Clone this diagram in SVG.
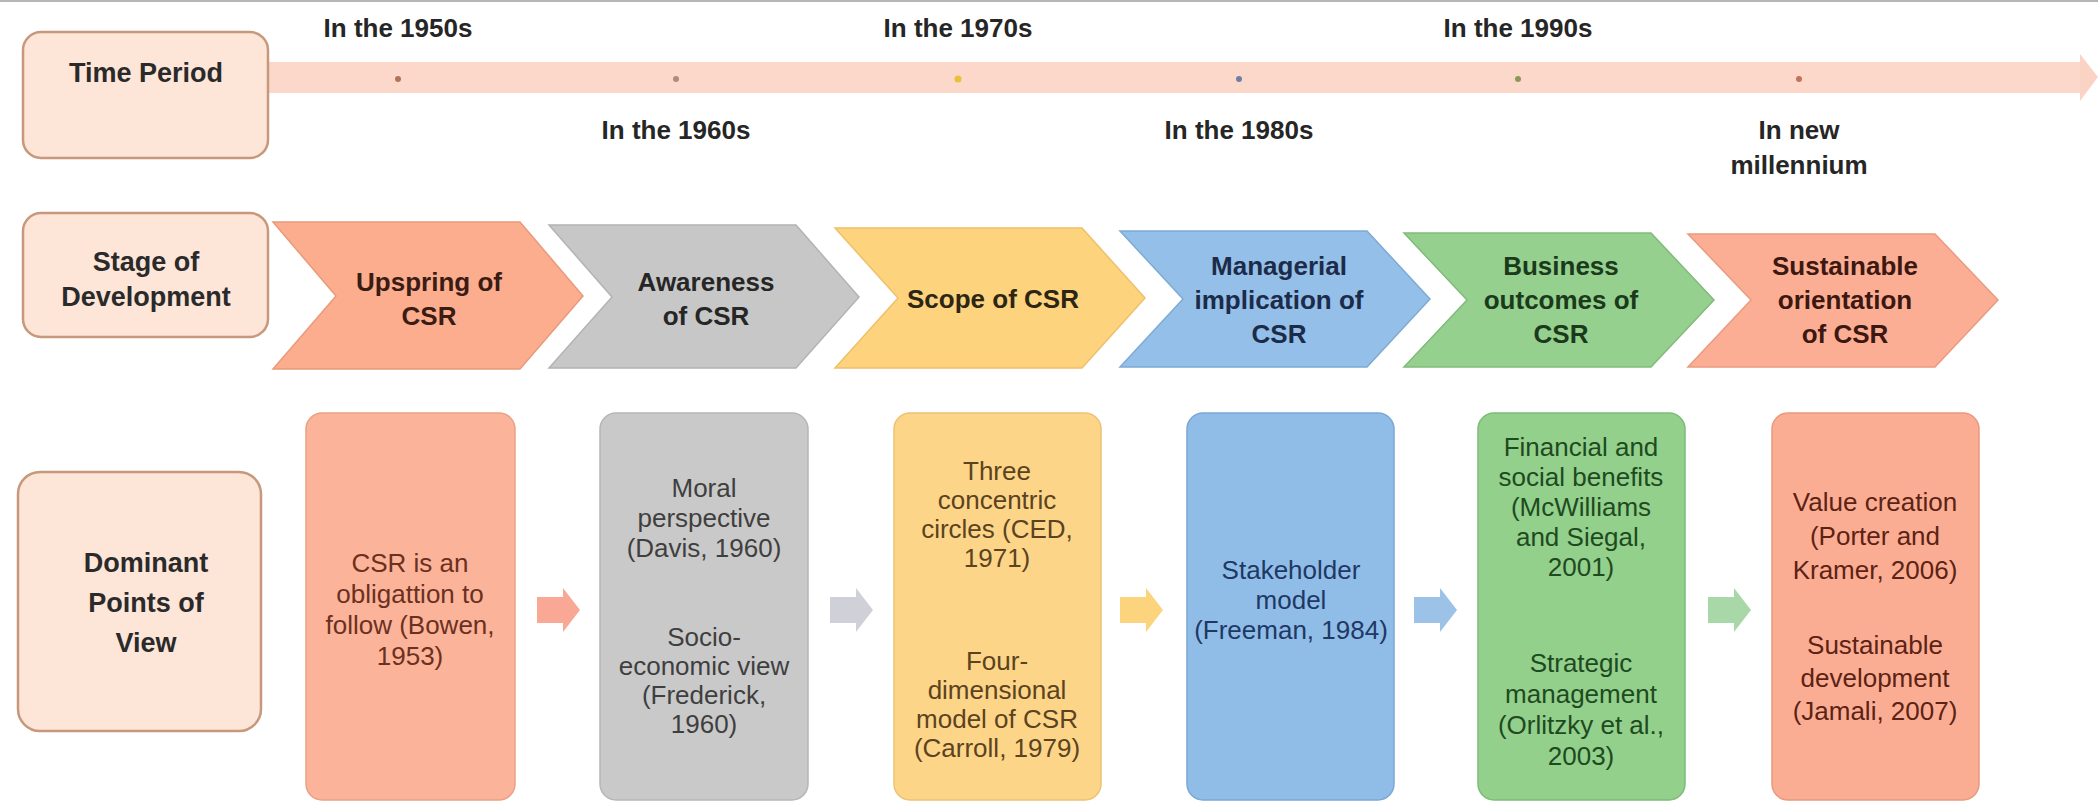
<svg xmlns="http://www.w3.org/2000/svg" width="2098" height="803" viewBox="0 0 2098 803">
<style>
.hdr{fill:#fde5d8;stroke:#c8987c;stroke-width:2.5}
.ht{font-family:"Liberation Sans",Arial,sans-serif;font-weight:bold;font-size:27px;fill:#2a2a2a;text-anchor:middle}
.tl{font-family:"Liberation Sans",Arial,sans-serif;font-weight:bold;font-size:26px;fill:#262626;text-anchor:middle}
.ct{font-family:"Liberation Sans",Arial,sans-serif;font-weight:bold;font-size:26px;text-anchor:middle}
.bt{font-family:"Liberation Sans",Arial,sans-serif;font-size:26px;text-anchor:middle}
.chev{stroke-width:1.5}
.box{stroke-width:1.5}
</style>
<rect x="0" y="0" width="2098" height="803" fill="#ffffff"/>
<line x1="0" y1="1" x2="2098" y2="1" stroke="#b5b5b5" stroke-width="2"/>

<!-- timeline -->
<g id="timeline">
  <rect x="268" y="62" width="1814" height="31" fill="#fcd8cb"/>
  <polygon points="2080,54 2098,77 2080,101" fill="#fbd3c5"/>
  <circle cx="398" cy="79" r="3" fill="#b07458"/>
  <circle cx="676" cy="79" r="3" fill="#b08a7a"/>
  <circle cx="958" cy="79" r="3.5" fill="#e8c23a"/>
  <circle cx="1239" cy="79" r="3" fill="#6f7fa3"/>
  <circle cx="1518" cy="79" r="3" fill="#8a9a52"/>
  <circle cx="1799" cy="79" r="3" fill="#c07458"/>
  <text class="tl" x="398" y="37">In the 1950s</text>
  <text class="tl" x="676" y="139">In the 1960s</text>
  <text class="tl" x="958" y="37">In the 1970s</text>
  <text class="tl" x="1239" y="139">In the 1980s</text>
  <text class="tl" x="1518" y="37">In the 1990s</text>
  <text class="tl" x="1799" y="139">In new</text>
  <text class="tl" x="1799" y="174">millennium</text>
</g>

<!-- row headers -->
<g id="time-period">
  <rect class="hdr" x="23" y="32" width="245" height="126" rx="18"/>
  <text class="ht" x="146" y="82">Time Period</text>
</g>
<g id="stage-of-development">
  <rect class="hdr" x="23" y="213" width="245" height="124" rx="18"/>
  <text class="ht" x="146" y="271">Stage of</text>
  <text class="ht" x="146" y="306">Development</text>
</g>
<g id="dominant-points">
  <rect class="hdr" x="18" y="472" width="243" height="259" rx="22"/>
  <text class="ht" x="146" y="572">Dominant</text>
  <text class="ht" x="146" y="612">Points of</text>
  <text class="ht" x="146" y="652">View</text>
</g>

<!-- chevrons -->
<g id="stage-upspring">
  <polygon class="chev" points="273,222 520,222 583,296 520,369 273,369 336,296" fill="#fbad8e" stroke="#e89a7c"/>
  <text class="ct" x="429" y="291" fill="#3a1c14">Upspring of</text>
  <text class="ct" x="429" y="325" fill="#3a1c14">CSR</text>
</g>
<g id="stage-awareness">
  <polygon class="chev" points="549,225 796,225 859,297 796,368 549,368 612,297" fill="#c7c7c7" stroke="#b3b3b3"/>
  <text class="ct" x="706" y="291" fill="#262626">Awareness</text>
  <text class="ct" x="706" y="325" fill="#262626">of CSR</text>
</g>
<g id="stage-scope">
  <polygon class="chev" points="835,228 1082,228 1145,298 1082,368 835,368 898,298" fill="#fdd37e" stroke="#eec06a"/>
  <text class="ct" x="993" y="308" fill="#2e2614">Scope of CSR</text>
</g>
<g id="stage-managerial">
  <polygon class="chev" points="1120,231 1367,231 1430,299 1367,367 1120,367 1183,299" fill="#93bfe8" stroke="#7eaad3"/>
  <text class="ct" x="1279" y="275" fill="#1d2b4a">Managerial</text>
  <text class="ct" x="1279" y="309" fill="#1d2b4a">implication of</text>
  <text class="ct" x="1279" y="343" fill="#1d2b4a">CSR</text>
</g>
<g id="stage-business">
  <polygon class="chev" points="1404,233 1651,233 1714,300 1651,367 1404,367 1467,300" fill="#95d08e" stroke="#80bb7a"/>
  <text class="ct" x="1561" y="275" fill="#1b3a1b">Business</text>
  <text class="ct" x="1561" y="309" fill="#1b3a1b">outcomes of</text>
  <text class="ct" x="1561" y="343" fill="#1b3a1b">CSR</text>
</g>
<g id="stage-sustainable">
  <polygon class="chev" points="1688,234 1935,234 1998,300 1935,367 1688,367 1751,300" fill="#fcae94" stroke="#e99a80"/>
  <text class="ct" x="1845" y="275" fill="#3d1810">Sustainable</text>
  <text class="ct" x="1845" y="309" fill="#3d1810">orientation</text>
  <text class="ct" x="1845" y="343" fill="#3d1810">of CSR</text>
</g>

<!-- view boxes -->
<g id="view-bowen">
  <rect class="box" x="306" y="413" width="209" height="387" rx="16" fill="#fbb499" stroke="#e9a186"/>
  <text class="bt" x="410" y="572" fill="#6b3020">CSR is an</text>
  <text class="bt" x="410" y="603" fill="#6b3020">obligattion to</text>
  <text class="bt" x="410" y="634" fill="#6b3020">follow (Bowen,</text>
  <text class="bt" x="410" y="665" fill="#6b3020">1953)</text>
</g>
<g id="view-davis">
  <rect class="box" x="600" y="413" width="208" height="387" rx="16" fill="#c9c9c9" stroke="#b6b6b6"/>
  <text class="bt" x="704" y="497" fill="#3f3f3f">Moral</text>
  <text class="bt" x="704" y="527" fill="#3f3f3f">perspective</text>
  <text class="bt" x="704" y="557" fill="#3f3f3f">(Davis, 1960)</text>
  <text class="bt" x="704" y="646" fill="#3f3f3f">Socio-</text>
  <text class="bt" x="704" y="675" fill="#3f3f3f">economic view</text>
  <text class="bt" x="704" y="704" fill="#3f3f3f">(Frederick,</text>
  <text class="bt" x="704" y="733" fill="#3f3f3f">1960)</text>
</g>
<g id="view-ced">
  <rect class="box" x="894" y="413" width="207" height="387" rx="16" fill="#fdd589" stroke="#ecc172"/>
  <text class="bt" x="997" y="480" fill="#5b4320">Three</text>
  <text class="bt" x="997" y="509" fill="#5b4320">concentric</text>
  <text class="bt" x="997" y="538" fill="#5b4320">circles (CED,</text>
  <text class="bt" x="997" y="567" fill="#5b4320">1971)</text>
  <text class="bt" x="997" y="670" fill="#5b4320">Four-</text>
  <text class="bt" x="997" y="699" fill="#5b4320">dimensional</text>
  <text class="bt" x="997" y="728" fill="#5b4320">model of CSR</text>
  <text class="bt" x="997" y="757" fill="#5b4320">(Carroll, 1979)</text>
</g>
<g id="view-freeman">
  <rect class="box" x="1187" y="413" width="207" height="387" rx="16" fill="#8fbde8" stroke="#7aa8d3"/>
  <text class="bt" x="1291" y="579" fill="#1f3864">Stakeholder</text>
  <text class="bt" x="1291" y="609" fill="#1f3864">model</text>
  <text class="bt" x="1291" y="639" fill="#1f3864">(Freeman, 1984)</text>
</g>
<g id="view-mcwilliams">
  <rect class="box" x="1478" y="413" width="207" height="387" rx="16" fill="#92d08c" stroke="#7dbb78"/>
  <text class="bt" x="1581" y="456" fill="#1f4a1f">Financial and</text>
  <text class="bt" x="1581" y="486" fill="#1f4a1f">social benefits</text>
  <text class="bt" x="1581" y="516" fill="#1f4a1f">(McWilliams</text>
  <text class="bt" x="1581" y="546" fill="#1f4a1f">and Siegal,</text>
  <text class="bt" x="1581" y="576" fill="#1f4a1f">2001)</text>
  <text class="bt" x="1581" y="672" fill="#1f4a1f">Strategic</text>
  <text class="bt" x="1581" y="703" fill="#1f4a1f">management</text>
  <text class="bt" x="1581" y="734" fill="#1f4a1f">(Orlitzky et al.,</text>
  <text class="bt" x="1581" y="765" fill="#1f4a1f">2003)</text>
</g>
<g id="view-porter">
  <rect class="box" x="1772" y="413" width="207" height="387" rx="16" fill="#fbad93" stroke="#e8997f"/>
  <text class="bt" x="1875" y="511" fill="#5b2314">Value creation</text>
  <text class="bt" x="1875" y="545" fill="#5b2314">(Porter and</text>
  <text class="bt" x="1875" y="579" fill="#5b2314">Kramer, 2006)</text>
  <text class="bt" x="1875" y="654" fill="#5b2314">Sustainable</text>
  <text class="bt" x="1875" y="687" fill="#5b2314">development</text>
  <text class="bt" x="1875" y="720" fill="#5b2314">(Jamali, 2007)</text>
</g>

<!-- connectors -->
<g id="connectors">
  <polygon points="537,597 563,597 563,588 580,610 563,632 563,623 537,623" fill="#f8a894"/>
  <polygon points="830,597 856,597 856,588 873,610 856,632 856,623 830,623" fill="#d0d0d8"/>
  <polygon points="1120,597 1146,597 1146,588 1163,610 1146,632 1146,623 1120,623" fill="#fdd47e"/>
  <polygon points="1414,597 1440,597 1440,588 1457,610 1440,632 1440,623 1414,623" fill="#9cc2e8"/>
  <polygon points="1708,597 1734,597 1734,588 1751,610 1734,632 1734,623 1708,623" fill="#a8d8a8"/>
</g>
</svg>
